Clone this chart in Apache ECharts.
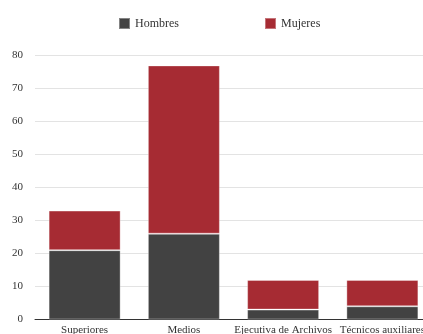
<!DOCTYPE html>
<html><head><meta charset="utf-8">
<script src="https://cdn.jsdelivr.net/npm/echarts@6/dist/echarts.min.js"></script>
<style>html,body{margin:0;padding:0;background:#fff}#c{width:423px;height:334px}</style>
</head><body><div id="c"></div>
<script>
const categories = ['Superiores', 'Medios', 'Ejecutiva de Archivos', 'Técnicos auxiliares'];
const hombres = [21, 26, 3, 4];
const mujeres = [12, 51, 9, 8];
const yTicks = [0, 10, 20, 30, 40, 50, 60, 70, 80];

const font = 'Liberation Serif, DejaVu Serif, serif';
const chart = echarts.init(document.getElementById('c'));
chart.setOption({
  animation: false,
  textStyle: { fontFamily: font },
  legend: {
    left: 113, top: 12, itemWidth: 11, itemHeight: 11, itemGap: 85,
    icon: 'rect',
    textStyle: { fontFamily: font, fontSize: 12, color: '#333' },
    data: ['Hombres', 'Mujeres']
  },
  grid: { left: 35, width: 397, top: 55.5, bottom: 14.5, containLabel: false, outerBoundsMode: 'none' },
  xAxis: {
    type: 'category', data: categories,
    axisTick: { show: false },
    axisLine: { lineStyle: { color: '#333', width: 1 } },
    axisLabel: { fontFamily: font, fontSize: 11, color: '#333', margin: 5, interval: 0 }
  },
  yAxis: {
    type: 'value', min: yTicks[0], max: yTicks[yTicks.length - 1], interval: 10,
    axisLine: { show: false }, axisTick: { show: false },
    axisLabel: { fontFamily: font, fontSize: 11, color: '#333', margin: 12 },
    splitLine: { lineStyle: { color: '#e3e3e3' } }
  },
  series: [
    { name: 'Hombres', type: 'bar', stack: 's', data: hombres, barWidth: 72,
      itemStyle: { color: '#424242', borderColor: 'rgba(255,255,255,0.35)', borderWidth: 1 } },
    { name: 'Mujeres', type: 'bar', stack: 's', data: mujeres, barWidth: 72,
      itemStyle: { color: '#a62b33', borderColor: 'rgba(255,255,255,0.35)', borderWidth: 1 } }
  ]
});
</script></body></html>
